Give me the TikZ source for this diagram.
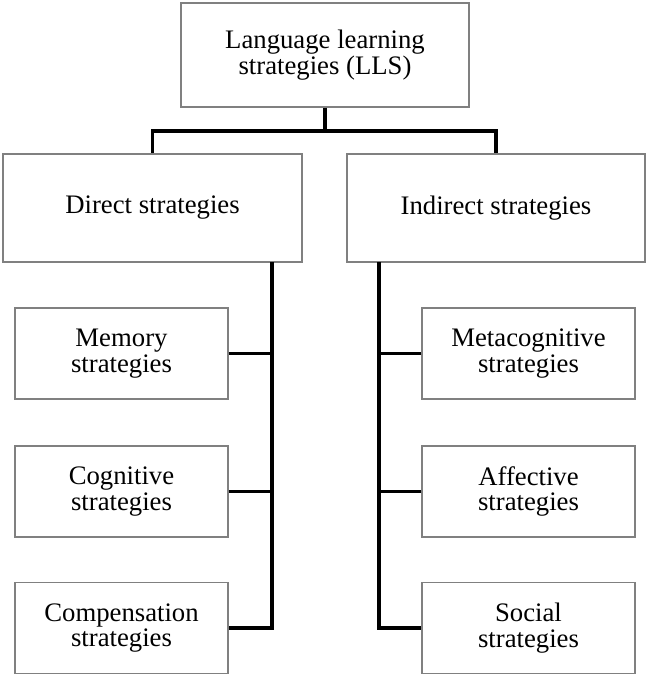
\documentclass[tikz,border=0pt]{standalone}
\usepackage{fontspec}
\setmainfont{Liberation Serif}
\usepackage{tikz}

\tikzset{
  stratbox/.style={draw=black!50, line width=0.9pt, fill=white, align=center,
    inner sep=0pt, font=\fontsize{19}{18}\selectfont},
  smallbox/.style={stratbox, minimum width=5.325cm, minimum height=2.275cm},
  link/.style={line width=2.3pt, black},
}

\begin{document}
\begin{tikzpicture}[x=0.025cm, y=-0.025cm]
    % one unit = one pixel of the 647 x 675 frame, y grows downwards
    \useasboundingbox (0,0) rectangle (647,675);
    \node[stratbox, minimum width=7.2cm, minimum height=2.6cm] (lls) at (325,55)
      {Language learning\\strategies (LLS)};
    \node[stratbox, minimum width=7.475cm, minimum height=2.7cm] (direct) at (152.5,208)
      {Direct strategies};
    \node[stratbox, minimum width=7.45cm, minimum height=2.7cm] (indirect) at (496,208)
      {Indirect strategies};
    % left column: direct strategies
    \node[smallbox] (memory)       at (121.5,353.5) {Memory\\strategies};
    \node[smallbox] (cognitive)    at (121.5,491.5) {Cognitive\\strategies};
    \node[smallbox] (compensation) at (121.5,628)   {Compensation\\strategies};
    % right column: indirect strategies
    \node[smallbox] (metacog)   at (528.5,353.5) {Metacognitive\\strategies};
    \node[smallbox] (affective) at (528.5,491.5) {Affective\\strategies};
    \node[smallbox] (social)    at (528.5,628)   {Social\\strategies};
    % top fork
    \coordinate (fork) at (325,131);
    \draw[link] (lls.south) -- (fork);
    \draw[link] (fork) -| (direct.north);
    \draw[link] (fork) -| (indirect.north);
    % the two trunks
    \coordinate (dtrunk) at (272,262);
    \coordinate (itrunk) at (379,262);
    \draw[link] (dtrunk) |- (compensation.east);
    \draw[link] (itrunk) |- (social.west);
    \foreach \n in {memory,cognitive}
      \draw[link] (\n.east) -- (\n.east -| dtrunk);
    \foreach \n in {metacog,affective}
      \draw[link] (\n.west) -- (\n.west -| itrunk);
\end{tikzpicture}
\end{document}
